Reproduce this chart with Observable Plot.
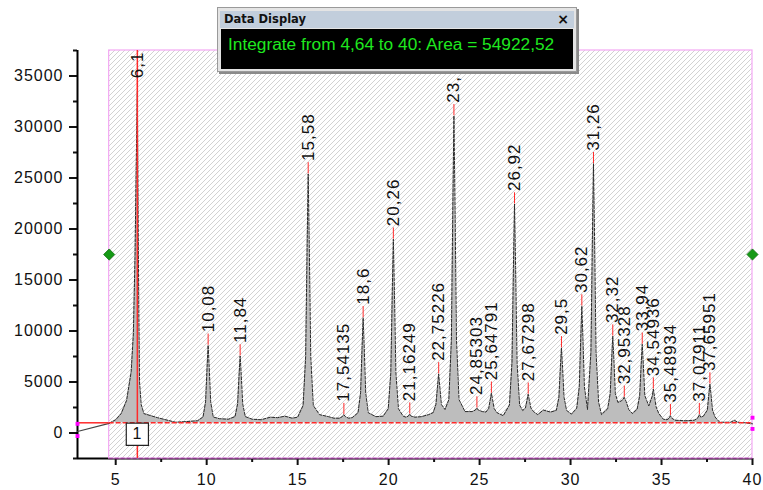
<!DOCTYPE html>
<html><head><meta charset="utf-8">
<script src="https://cdn.jsdelivr.net/npm/d3@7"></script>
<script src="https://cdn.jsdelivr.net/npm/@observablehq/plot@0.6"></script>
<style>
body{margin:0;background:#fff;}
#wrap{position:relative;width:763px;height:490px;overflow:hidden;}
#chart svg text{letter-spacing:1px;}
#dd{position:absolute;left:217px;top:7px;width:358px;height:63px;background:#e4e4e4;border:1px solid #9a9a9a;box-shadow:2px 2px 0 #8a8a8a;}
#dd .bar{position:absolute;left:2px;right:2px;top:3px;height:17px;background:#c2cedc;font:bold 11.5px 'DejaVu Sans',sans-serif;color:#111;line-height:17px;padding-left:4px;}
#dd .bar span{position:absolute;right:5px;top:0;font:bold 14px 'DejaVu Sans',sans-serif;}
#dd .body{position:absolute;left:3px;right:3px;top:21px;bottom:2px;background:#000;color:#1fe81f;font:17.3px 'Liberation Sans',Arial,sans-serif;padding:5px 0 0 7px;box-sizing:border-box;}
</style></head><body>
<div id="wrap"><div id="chart"></div>
<div id="dd"><div class="bar">Data Display<span>×</span></div><div class="body">Integrate from 4,64 to 40: Area = 54922,52</div></div>
</div>
<script>
// axis ticks
const xTicks = [5, 10, 15, 20, 25, 30, 35, 40];
const xMinor = [7.5, 12.5, 17.5, 22.5, 27.5, 32.5, 37.5];
const yTicks = [0, 5000, 10000, 15000, 20000, 25000, 30000, 35000];
const yMinor = [-2500, 2500, 7500, 12500, 17500, 22500, 27500, 32500, 37500];
const xDomain = [2.9, 40];
const yDomain = [-2500, 37500];

// integration range and baseline
const integrateRange = [4.64, 40];
const baseline = 1000;
const markerX = 6.19;
const markerText = "1";

// data before integration range
const preX = [2.9, 4.64];
const preY = [150, 950];

// curve
const curveX = [4.64,5.0,5.3,5.6,5.85,5.97,6.06,6.12,6.19,6.23,6.27,6.31,6.4,6.55,7.3,8.3,9.1,9.5,
 9.8,9.94,10.02,10.08,10.14,10.22,10.36,10.7,11.2,
 11.56,11.7,11.78,11.84,11.9,11.98,12.12,12.5,13.0,13.5,13.9,14.3,14.7,15.0,
 15.3,15.44,15.52,15.58,15.64,15.72,15.86,16.2,16.7,17.0,
 17.3,17.45,17.54,17.63,17.8,18.0,
 18.32,18.46,18.54,18.6,18.66,18.74,18.88,19.3,19.7,
 19.98,20.12,20.2,20.26,20.32,20.4,20.54,20.8,
 20.95,21.08,21.16,21.24,21.45,21.8,22.2,
 22.45,22.6,22.69,22.75,22.81,22.9,23.1,
 23.31,23.45,23.53,23.59,23.65,23.73,23.87,24.2,
 24.6,24.77,24.85,24.93,25.15,
 25.35,25.5,25.59,25.65,25.71,25.8,25.95,26.3,
 26.64,26.78,26.86,26.92,26.98,27.06,27.2,
 27.37,27.52,27.61,27.67,27.73,27.82,27.97,28.2,28.5,28.9,
 29.22,29.36,29.44,29.5,29.56,29.64,29.78,30.05,
 30.34,30.48,30.56,30.62,30.68,30.76,30.93,
 31.12,31.2,31.26,31.32,31.4,31.54,31.7,
 32.04,32.18,32.26,32.32,32.38,32.46,32.6,
 32.8,32.88,32.95,33.05,33.2,33.4,
 33.66,33.8,33.88,33.94,34.0,34.08,34.3,
 34.49,34.55,34.61,34.7,34.85,35.1,
 35.3,35.42,35.49,35.56,35.75,36.3,36.8,
 36.9,37.0,37.08,37.16,37.3,
 37.52,37.6,37.66,37.72,37.8,37.94,38.2,38.8,39.0,39.2,39.6,40];
const curveY = [950,1300,1900,3200,6000,9700,17200,25200,33500,22000,12000,5000,2800,1900,1500,1050,1150,1200,
 1570,3050,6380,8600,6380,3050,1570,1400,1350,
 1610,2860,5680,7550,5680,2860,1610,1350,1300,1550,1500,1650,1450,1550,
 2700,7480,18230,25400,18230,7480,2700,1800,1600,1450,
 1450,1600,1800,1600,1450,1500,
 1990,3950,8360,11300,8360,3950,1990,1600,1650,
 2380,5880,13750,19000,13750,5880,2380,1650,
 1550,1650,1850,1650,1550,1600,1800,
 2000,2800,4600,5800,4600,2800,2300,
 3270,9130,22310,31100,22310,9130,3270,2100,
 2100,2250,2450,2250,2100,
 2050,2400,3300,3900,3300,2400,2000,1700,
 2740,6890,16230,22450,16230,6890,2740,
 2200,2450,3260,3800,3260,2450,2090,1800,2250,2050,
 2220,3510,6420,8350,6420,3510,2220,1850,
 2430,4540,9290,12450,9290,4540,2300,
 7950,19020,26400,19020,7950,3030,1800,
 2375,3875,7250,9500,7250,3875,3000,
 3150,3300,3500,3100,2300,1900,
 2335,3675,6690,8700,6690,3675,2650,
 3610,4300,3610,2575,1900,1350,
 1300,1450,1700,1450,1250,1200,1250,
 1350,1500,1800,1550,1650,
 2250,3780,4800,3780,2250,1570,1050,1050,1250,1050,1000,900];

// peak labels
const peakX = [6.19,10.08,11.84,15.58,17.54135,18.6,20.26,21.16249,22.75226,23.59,24.85303,25.64791,26.92,27.67298,29.5,30.62,31.26,32.32,32.95328,33.94,34.54936,35.48934,37.07911,37.65951];
const peakY = [33500,8600,7550,25400,1800,11300,19000,1850,5800,31100,2450,3900,22450,3800,8350,12450,26400,9500,3500,8700,4300,1700,1800,4800];
const peakLabels = ["6,1","10,08","11,84","15,58","17,54135","18,6","20,26","21,16249","22,75226","23,","24,85303","25,64791","26,92","27,67298","29,5","30,62","31,26","32,32","32,95328","33,94","34,54936","35,48934","37,07911","37,65951"];

// handles
const handleX = [2.9, 2.9, 40, 40];
const handleY = [900, -300, 1500, 400];

const curve = curveX.map((x, i) => ({x, y: curveY[i]}));
const pre = preX.map((x, i) => ({x, y: preY[i]}));
const peaks = peakX.map((x, i) => ({x, y: peakY[i], label: peakLabels[i]}));
const handles = handleX.map((x, i) => ({x, y: handleY[i]}));
const tickLen = 1100;
const red = "#ff2a2a";

const plot = Plot.plot({
  width: 763, height: 490,
  marginLeft: 77, marginRight: 11, marginTop: 50, marginBottom: 32,
  x: {domain: xDomain},
  y: {domain: yDomain},
  style: {fontFamily: "'Liberation Sans', Arial, sans-serif", fontSize: "16px", background: "white", color: "#111"},
  marks: [
    Plot.axisY(yTicks, {tickSize: 8, tickPadding: 6, strokeWidth: 2, tickFormat: d => `${d}`, label: null, fontSize: 16}),
    Plot.axisY(yMinor, {tickSize: 4, strokeWidth: 2, fill: "none", label: null}),
    Plot.axisX(xTicks, {tickSize: 7, tickPadding: 8, strokeWidth: 2, tickFormat: d => `${d}`, label: null, fontSize: 16}),
    Plot.axisX(xMinor, {tickSize: 4, strokeWidth: 2, fill: "none", label: null}),
    Plot.ruleX([xDomain[0]], {y1: yDomain[0], y2: yDomain[1], stroke: "#000", strokeWidth: 2}),
    Plot.ruleY([yDomain[0]], {x1: xDomain[0], x2: xDomain[1], stroke: "#000", strokeWidth: 2}),
    Plot.rect([0], {x1: integrateRange[0], x2: integrateRange[1], y1: yDomain[0], y2: yDomain[1], fill: "url(#hatch)", stroke: "#f3a8f3", strokeWidth: 1.2}),
    Plot.ruleY([yDomain[0]], {x1: integrateRange[0], x2: integrateRange[1], stroke: "#8a3a8a", strokeWidth: 1.5, strokeDasharray: "4,2"}),
    Plot.areaY(curve, {x: "x", y1: baseline, y2: "y", fill: "#bdbdbd"}),
    Plot.line(pre, {x: "x", y: "y", stroke: "#444", strokeWidth: 1.2}),
    Plot.line(curve, {x: "x", y: "y", stroke: "#2a2a2a", strokeWidth: 1, strokeDasharray: "3,1.5"}),
    Plot.ruleY([baseline], {x1: xDomain[0], x2: integrateRange[0], stroke: red, strokeWidth: 1.5}),
    Plot.ruleY([baseline], {x1: integrateRange[0], x2: integrateRange[1], stroke: red, strokeWidth: 1.5, strokeDasharray: "5,2"}),
    Plot.ruleX([markerX], {y1: yDomain[0], y2: yDomain[1], stroke: red, strokeWidth: 1.5}),
    Plot.ruleX(peaks, {x: "x", y1: "y", y2: d => d.y + tickLen, stroke: red, strokeWidth: 1}),
    Plot.text(peaks, {x: "x", y: "y", text: "label", rotate: -90, textAnchor: "start", dy: -13, fontSize: 17, fill: "#111"}),
    Plot.dot(integrateRange, {x: d => d, y: (yDomain[0] + yDomain[1]) / 2, symbol: "diamond2", r: 5, fill: "#159a15", stroke: "#0c6e0c", strokeWidth: 0.8}),
    Plot.dot(handles, {x: "x", y: "y", symbol: "square", r: 2.2, fill: "#ff00ff"}),
    Plot.dot([markerX], {x: d => d, y: baseline, dy: 11.5, symbol: "square", r: 12.5, fill: "white", stroke: "#222", strokeWidth: 1.2}),
    Plot.text([markerX], {x: d => d, y: baseline, dy: 11.5, text: () => markerText, fontSize: 16, fill: "#111"})
  ]
});

const defs = d3.select(plot).insert("defs", ":first-child");
const pat = defs.append("pattern").attr("id", "hatch").attr("patternUnits", "userSpaceOnUse").attr("width", 5).attr("height", 5);
pat.append("rect").attr("width", 5).attr("height", 5).attr("fill", "#fff");
pat.append("path").attr("d", "M-1,1 L1,-1 M0,5 L5,0 M4,6 L6,4").attr("stroke", "#b4b4b4").attr("stroke-width", 0.6);

document.getElementById("chart").appendChild(plot);
</script>
</body></html>
